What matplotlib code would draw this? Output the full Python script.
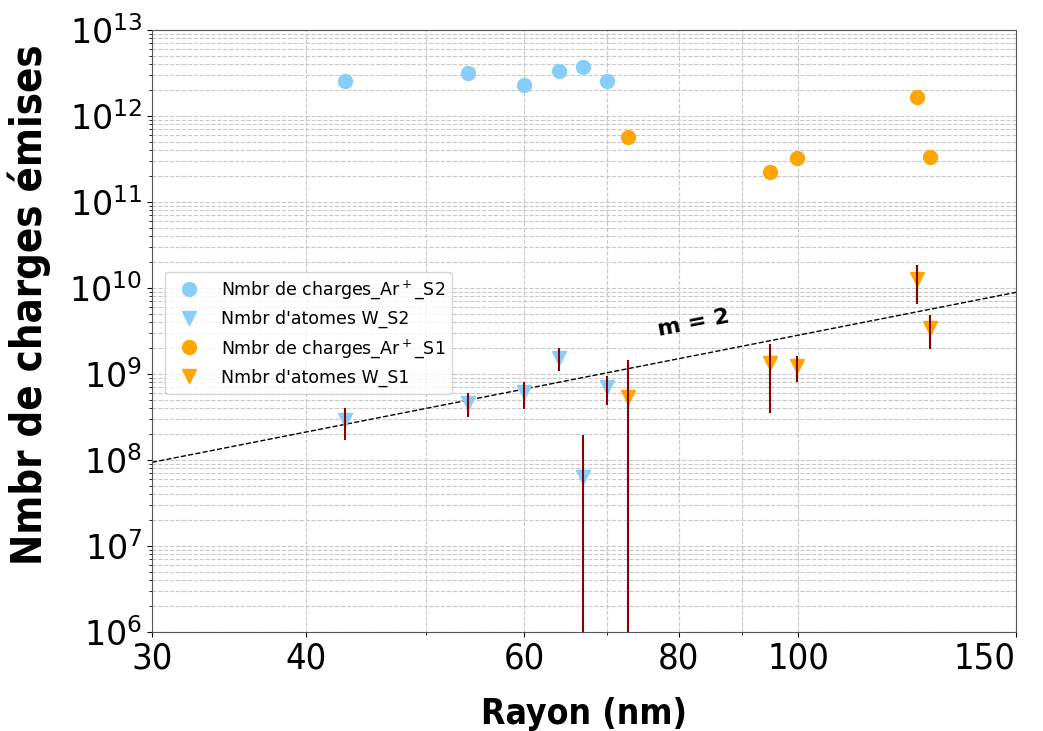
import matplotlib
matplotlib.use("Agg")
import matplotlib.pyplot as plt
from matplotlib.ticker import NullFormatter
import numpy as np

# radius (nm)
r_s2 = [43.0, 54.0, 60.0, 64.0, 66.9, 70.0]
r_s1 = [72.8, 94.8, 99.8, 124.8, 127.8]

# emitted charges (Ar+)
charges_s2 = [2.55e12, 3.16e12, 2.31e12, 3.36e12, 3.68e12, 2.55e12]
charges_s1 = [5.7e11, 2.24e11, 3.25e11, 1.66e12, 3.34e11]

# W atoms + error bar bounds
atoms_s2 = [2.92e8, 4.64e8, 6.22e8, 1.52e9, 6.4e7, 7.1e8]
atoms_s2_lo = [1.71e8, 3.14e8, 3.89e8, 1.09e9, 0.0, 4.36e8]
atoms_s2_hi = [3.99e8, 5.97e8, 8.13e8, 1.99e9, 1.95e8, 9.5e8]
atoms_s1 = [5.45e8, 1.35e9, 1.24e9, 1.26e10, 3.45e9]
atoms_s1_lo = [0.0, 3.55e8, 8.0e8, 6.6e9, 1.94e9]
atoms_s1_hi = [1.46e9, 2.23e9, 1.62e9, 1.85e10, 4.85e9]

# guide line
fit_x = [30, 150]
fit_y = [9.4e7, 8.9e9]

xticks = [30, 40, 60, 80, 100, 150]

fig = plt.figure(figsize=(10.43, 7.31), dpi=100)
ax = fig.add_axes([0.1457, 0.1354, 0.8284, 0.8236])
ax.set_xscale("log")
ax.set_yscale("log")

ax.plot(fit_x, fit_y, "k--", lw=1, zorder=2)

ax.plot(r_s2, charges_s2, "o", color="#87CEFA", ms=10, label=r"Nmbr de charges_Ar$^+$_S2", zorder=3)
ax.plot(r_s2, atoms_s2, "v", color="#87CEFA", ms=10, label="Nmbr d'atomes W_S2", zorder=3)
ax.plot(r_s1, charges_s1, "o", color="#FFA500", ms=10, label=r"Nmbr de charges_Ar$^+$_S1", zorder=3)
ax.plot(r_s1, atoms_s1, "v", color="#FFA500", ms=10, label="Nmbr d'atomes W_S1", zorder=3)

a2 = np.array(atoms_s2)
a1 = np.array(atoms_s1)
err2 = [a2 - np.array(atoms_s2_lo), np.array(atoms_s2_hi) - a2]
err1 = [a1 - np.array(atoms_s1_lo), np.array(atoms_s1_hi) - a1]
ax.errorbar(r_s2, a2, yerr=err2, fmt="none", ecolor="darkred", elinewidth=1.5, zorder=4)
ax.errorbar(r_s1, a1, yerr=err1, fmt="none", ecolor="darkred", elinewidth=1.5, zorder=4)

ax.text(82.2, 3.9e9, "m = 2", fontsize=16, fontweight="bold", rotation=11,
        ha="center", va="center")

ax.set_xlim(30, 150)
ax.set_ylim(1e6, 1e13)
ax.set_xticks(xticks)
labels = ax.set_xticklabels([str(t) for t in xticks], fontstretch="condensed")
labels[-1].set_ha("right")
ax.xaxis.set_minor_formatter(NullFormatter())
ax.tick_params(axis="both", which="major", labelsize=24)
ax.tick_params(axis="x", which="major", labelsize=26)
ax.grid(True, which="both", ls="--", color="#c8c8c8", lw=0.8)
for s in ax.spines.values():
    s.set_color("#555555")

ax.set_xlabel("Rayon (nm)", fontsize=25.5, fontweight="bold", fontstretch="condensed",
              labelpad=15)
ax.set_ylabel("Nmbr de charges émises", fontsize=30, fontweight="bold",
              fontstretch="condensed")
ax.yaxis.set_label_coords(-0.117, 0.543)

ax.legend(loc="upper left", bbox_to_anchor=(0.005, 0.613), fontsize=12.5,
          framealpha=0.8)

fig.savefig("out.png", dpi=100)
